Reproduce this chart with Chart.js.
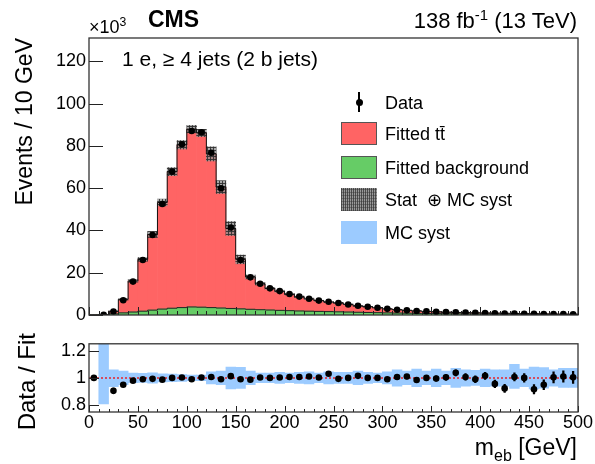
<!DOCTYPE html>
<html>
<head>
<meta charset="utf-8">
<title>m_eb fit</title>
<script src="https://cdn.jsdelivr.net/npm/chart.js@4.4.1/dist/chart.umd.min.js"></script>
<style>
html, body { margin: 0; padding: 0; background: #fff; }
body { position: relative; width: 595px; height: 464px; overflow: hidden;
       font-family: "Liberation Sans", Arial, Helvetica, sans-serif; color: #000; }
canvas { position: absolute; left: 0; }
#mainChart { top: 0; }
#ratioChart { top: 330px; }
.txt { position: absolute; white-space: nowrap; line-height: 1; }
.sup { font-size: 0.68em; position: relative; top: -0.55em; }
.rot { position: absolute; white-space: nowrap; line-height: 1; transform-origin: 100% 0; transform: rotate(-90deg); }
.row { position: absolute; left: 341px; height: 24px; width: 240px; }
.row .sw { position: absolute; left: 0; top: 0; width: 36px; height: 23px; box-sizing: border-box; }
.row .lab { position: absolute; left: 44px; top: 0; font-size: 18px; line-height: 24px; white-space: nowrap; }
</style>
</head>
<body>
<canvas id="mainChart" width="595" height="330"></canvas>
<canvas id="ratioChart" width="595" height="134"></canvas>

<div class="txt" style="left:148px; top:8px; font-size:23px; font-weight:bold;">CMS</div>
<div class="txt" style="left:89px; top:18px; font-size:18px;">×10<span class="sup">3</span></div>
<div class="txt" style="right:18px; top:10px; font-size:22px;">138 fb<span class="sup">-1</span> (13 TeV)</div>
<div class="txt" style="left:122px; top:48px; font-size:21px;">1 e, ≥ 4 jets (2 b jets)</div>

<div class="rot" style="right:582px; top:38px; font-size:23px;">Events / 10 GeV</div>
<div class="rot" style="right:580px; top:333px; font-size:24px;">Data / Fit</div>
<div class="txt" style="right:18px; top:436px; font-size:23px;">m<span style="font-size:16px; position:relative; top:6px;">eb</span> [GeV]</div>

<div class="row" style="top:91px;">
  <div class="sw">
    <div style="position:absolute; left:17px; top:1px; width:1.6px; height:20px; background:#000;"></div>
    <div style="position:absolute; left:14.5px; top:8px; width:7px; height:7px; border-radius:50%; background:#000;"></div>
  </div>
  <div class="lab">Data</div>
</div>
<div class="row" style="top:122px;">
  <div class="sw" style="background:#ff6464; border:1px solid #555;"></div>
  <div class="lab">Fitted tt̄</div>
</div>
<div class="row" style="top:155.5px;">
  <div class="sw" style="background:#66cc66; border:1px solid #555;"></div>
  <div class="lab">Fitted background</div>
</div>
<div class="row" style="top:188px;">
  <div class="sw" style="background-color:#999; background-image:repeating-linear-gradient(90deg, rgba(50,50,50,.75) 0 1px, transparent 1px 2px), repeating-linear-gradient(0deg, rgba(50,50,50,.4) 0 1px, transparent 1px 3px);"></div>
  <div class="lab">Stat &nbsp;⊕ MC syst</div>
</div>
<div class="row" style="top:221px;">
  <div class="sw" style="background:#9ccbff;"></div>
  <div class="lab">MC syst</div>
</div>

<script>
// ---- data (events in units of 10^3, bins of 10 GeV) ----
const binCenters = [5, 15, 25, 35, 45, 55, 65, 75, 85, 95, 105, 115, 125, 135, 145, 155, 165, 175, 185, 195,
    205, 215, 225, 235, 245, 255, 265, 275, 285, 295, 305, 315, 325, 335, 345, 355, 365, 375, 385, 395,
    405, 415, 425, 435, 445, 455, 465, 475, 485, 495];

const dataEvents = [null, 0.05, 1.6, 7.0, 15.8, 26.0, 37.8, 52.5, 67.8, 80.7, 87.0, 86.4, 76.7, 59.9, 41.4, 26.0, 17.8, 14.8, 12.6, 11.3,
    9.9, 8.7, 7.7, 6.8, 6.3, 5.7, 5.0, 4.4, 3.9, 3.4, 2.9, 2.5, 2.2, 1.9, 1.7, 1.5, 1.35, 1.25, 1.1, 1.0,
    0.92, 0.82, 0.74, 0.68, 0.62, 0.55, 0.5, 0.46, 0.42, 0.38];

const fittedTT = [0, 0.1, 1.27, 6.4, 14.7, 24.5, 35.8, 50.4, 64.6, 77.0, 84.1, 82.4, 72.7, 57.2, 37.8, 23.4, 15.3, 12.25, 10.25, 9.07,
    7.78, 6.74, 5.82, 5.08, 4.52, 4.24, 3.6, 3.03, 2.7, 2.3, 1.93, 1.56, 1.33, 1.15, 0.98, 0.85, 0.74, 0.65, 0.59, 0.55,
    0.49, 0.47, 0.44, 0.35, 0.32, 0.32, 0.27, 0.22, 0.2, 0.18];

const fittedBkg = [0, 0.05, 0.5, 1.0, 1.4, 1.8, 2.3, 2.8, 3.2, 3.5, 3.8, 3.7, 3.5, 3.3, 3.1, 2.9, 2.7, 2.5, 2.35, 2.2,
    2.05, 1.9, 1.8, 1.7, 1.6, 1.5, 1.4, 1.3, 1.2, 1.1, 1.0, 0.92, 0.85, 0.78, 0.72, 0.66, 0.6, 0.55, 0.5, 0.46,
    0.42, 0.39, 0.36, 0.33, 0.3, 0.28, 0.26, 0.24, 0.22, 0.2];

const ratioVals = [1.0, null, 0.905, 0.95, 0.98, 0.99, 0.993, 0.987, 1.0, 1.003, 0.99, 1.003, 1.007, 0.99, 1.013, 0.99, 0.987, 1.003, 1.0, 1.003,
    1.007, 1.007, 1.01, 1.003, 1.03, 0.993, 1.0, 1.015, 1.0, 1.0, 0.99, 1.007, 1.01, 0.985, 1.0, 0.996, 1.004, 1.037, 1.007, 0.99,
    1.015, 0.956, 0.923, 1.007, 1.0, 0.917, 0.95, 1.004, 1.01, 1.004];

const ratioErr = [0, 0, 0.02, 0.008, 0.005, 0.004, 0.004, 0.003, 0.003, 0.003, 0.003, 0.003, 0.003, 0.003, 0.004, 0.005, 0.006, 0.006, 0.007, 0.007,
    0.008, 0.008, 0.009, 0.01, 0.01, 0.011, 0.011, 0.012, 0.013, 0.014, 0.015, 0.016, 0.017, 0.018, 0.019, 0.02, 0.021, 0.022, 0.024, 0.025,
    0.026, 0.028, 0.029, 0.03, 0.032, 0.034, 0.036, 0.04, 0.042, 0.045];

// relative MC systematic (up / down)
const mcSystUp = [0, 0.3, 0.06, 0.05, 0.035, 0.033, 0.038, 0.03, 0.028, 0.025, 0.02, 0.02, 0.044, 0.05, 0.08, 0.078, 0.05, 0.035, 0.035, 0.04,
    0.035, 0.04, 0.045, 0.035, 0.045, 0.04, 0.04, 0.05, 0.04, 0.035, 0.045, 0.06, 0.05, 0.065, 0.05, 0.065, 0.05, 0.07, 0.06, 0.055,
    0.065, 0.06, 0.06, 0.1, 0.065, 0.08, 0.075, 0.06, 0.07, 0.07];
const mcSystDown = [0, 0.19, 0.065, 0.05, 0.035, 0.033, 0.038, 0.03, 0.028, 0.025, 0.02, 0.02, 0.044, 0.05, 0.08, 0.078, 0.05, 0.035, 0.035, 0.04,
    0.035, 0.04, 0.045, 0.035, 0.045, 0.04, 0.04, 0.05, 0.04, 0.035, 0.045, 0.06, 0.05, 0.065, 0.05, 0.065, 0.05, 0.07, 0.06, 0.055,
    0.065, 0.06, 0.06, 0.077, 0.065, 0.08, 0.075, 0.06, 0.07, 0.07];

const yTicksMain = [0, 20, 40, 60, 80, 100, 120];
const yTicksRatio = [0.8, 1, 1.2];
const xTicks = [0, 50, 100, 150, 200, 250, 300, 350, 400, 450, 500];

// ---- colours ----
const RED = '#ff6464';
const GREEN = '#66cc66';
const BLUE = '#9ccbff';

Chart.defaults.font.family = '"Liberation Sans", Arial, Helvetica, sans-serif';
Chart.defaults.font.size = 18;
Chart.defaults.color = '#000';
Chart.defaults.animation = false;

// --- helpers built from the arrays above ---
const fitTotal = fittedTT.map(function (v, i) { return v + fittedBkg[i]; });
const binEdges = binCenters.map(function (c) { return c - 5; }).concat([500]);

function stepPoints(vals) {
    const pts = binCenters.map(function (c, i) { return { x: c - 5, y: vals[i] }; });
    pts.push({ x: 500, y: vals[vals.length - 1] });
    return pts;
}

function hatchPattern() {
    const c = document.createElement('canvas');
    c.width = 3; c.height = 3;
    const g = c.getContext('2d');
    g.fillStyle = 'rgba(140,140,140,0.75)';
    g.fillRect(0, 0, 3, 3);
    g.fillStyle = 'rgba(50,50,50,0.9)';
    g.fillRect(0, 0, 1, 3);
    g.fillRect(0, 0, 3, 1);
    return g.createPattern(c, 'repeat');
}

const histBar = { type: 'bar', grouped: false, categoryPercentage: 1, barPercentage: 1, borderWidth: 0, clip: 0 };

// inward ticks + frame, ROOT style
const frameTicks = {
    id: 'frameTicks',
    afterDatasetsDraw(chart, args, opts) {
        const ctx = chart.ctx, a = chart.chartArea;
        const xs = chart.scales.x, ys = chart.scales.y;
        ctx.save();
        ctx.strokeStyle = '#222';
        ctx.lineWidth = 1;
        ctx.beginPath();
        binEdges.forEach(function (v) {
            const px = Math.round(xs.getPixelForValue(v)) + 0.5;
            const len = v % 50 === 0 ? opts.xMajor : opts.xMinor;
            ctx.moveTo(px, a.bottom);
            ctx.lineTo(px, a.bottom - len);
        });
        opts.yTicks.forEach(function (v) {
            const py = Math.round(ys.getPixelForValue(v)) + 0.5;
            ctx.moveTo(a.left, py);
            ctx.lineTo(a.left + opts.yLen, py);
        });
        ctx.stroke();
        ctx.lineWidth = 1.3;
        ctx.strokeStyle = '#333';
        ctx.strokeRect(a.left, a.top, a.right - a.left, a.bottom - a.top);
        ctx.restore();
    }
};

// ---- main panel ----
new Chart(document.getElementById('mainChart'), {
    type: 'bar',
    data: {
        datasets: [
            {
                type: 'line', order: 0, showLine: false,
                data: binCenters.map(function (c, i) { return { x: c, y: dataEvents[i] }; }),
                pointRadius: 3.3, pointBackgroundColor: '#000', pointBorderWidth: 0
            },
            {
                type: 'line', order: 1, stepped: 'before',
                data: stepPoints(fitTotal),
                borderColor: '#111', borderWidth: 1, pointRadius: 0, fill: false
            },
            {
                type: 'line', order: 2, stepped: 'before',
                data: stepPoints(fittedBkg),
                borderColor: '#222', borderWidth: 1, pointRadius: 0, fill: false
            },
            Object.assign({}, histBar, {
                order: 3,
                data: binCenters.map(function (c, i) {
                    return { x: c, y: [fitTotal[i] * (1 - mcSystDown[i]), fitTotal[i] * (1 + mcSystUp[i])] };
                }),
                backgroundColor: hatchPattern()
            }),
            Object.assign({}, histBar, {
                order: 4,
                data: binCenters.map(function (c, i) { return { x: c, y: fittedBkg[i] }; }),
                backgroundColor: GREEN
            }),
            Object.assign({}, histBar, {
                order: 5,
                data: binCenters.map(function (c, i) { return { x: c, y: fitTotal[i] }; }),
                backgroundColor: RED
            })
        ]
    },
    options: {
        responsive: false,
        layout: { padding: { left: 0, right: 17, top: 38, bottom: 15 } },
        plugins: {
            legend: { display: false },
            tooltip: { enabled: false },
            frameTicks: { xMajor: 8, xMinor: 4, yLen: 14, yTicks: yTicksMain }
        },
        scales: {
            x: { type: 'linear', min: 0, max: 500, offset: false, display: false, grid: { display: false } },
            y: {
                type: 'linear', min: 0, max: 131,
                grid: { display: false, drawTicks: false },
                border: { display: false },
                ticks: { padding: 3, callback: function (v) { return String(v); } },
                afterBuildTicks: function (s) { s.ticks = yTicksMain.map(function (v) { return { value: v }; }); },
                afterFit: function (s) { s.width = 89; }
            }
        }
    },
    plugins: [frameTicks]
});

// ---- ratio panel ----
new Chart(document.getElementById('ratioChart'), {
    type: 'bar',
    data: {
        datasets: [
            {
                type: 'line', order: 0, showLine: false,
                data: binCenters.map(function (c, i) { return { x: c, y: ratioVals[i] }; }),
                pointRadius: 3.3, pointBackgroundColor: '#000', pointBorderWidth: 0
            },
            {
                type: 'bar', order: 1, grouped: false, barThickness: 1.6, borderWidth: 0,
                data: binCenters.map(function (c, i) {
                    return { x: c, y: ratioVals[i] === null ? null : [ratioVals[i] - ratioErr[i], ratioVals[i] + ratioErr[i]] };
                }),
                backgroundColor: '#000'
            },
            {
                type: 'line', order: 2,
                data: [{ x: 0, y: 1 }, { x: 500, y: 1 }],
                borderColor: '#e8232a', borderWidth: 1.5, borderDash: [2, 2], pointRadius: 0
            },
            Object.assign({}, histBar, {
                order: 3,
                data: binCenters.map(function (c, i) { return { x: c, y: [1 - mcSystDown[i], 1 + mcSystUp[i]] }; }),
                backgroundColor: BLUE
            })
        ]
    },
    options: {
        responsive: false,
        layout: { padding: { left: 0, right: 17, top: 6, bottom: 0 } },
        plugins: {
            legend: { display: false },
            tooltip: { enabled: false },
            frameTicks: { xMajor: 6, xMinor: 3, yLen: 10, yTicks: yTicksRatio }
        },
        scales: {
            x: {
                type: 'linear', min: 0, max: 500, offset: false,
                grid: { display: false, drawTicks: false },
                border: { display: false },
                ticks: { padding: 0, maxRotation: 0, autoSkip: false, callback: function (v) { return String(v); } },
                afterBuildTicks: function (s) { s.ticks = xTicks.map(function (v) { return { value: v }; }); },
                afterFit: function (s) { s.height = 52; }
            },
            y: {
                type: 'linear', min: 0.75, max: 1.25,
                grid: { display: false, drawTicks: false },
                border: { display: false },
                ticks: { padding: 3, callback: function (v) { return String(v); } },
                afterBuildTicks: function (s) { s.ticks = yTicksRatio.map(function (v) { return { value: v }; }); },
                afterFit: function (s) { s.width = 89; }
            }
        }
    },
    plugins: [frameTicks]
});
</script>
</body>
</html>
